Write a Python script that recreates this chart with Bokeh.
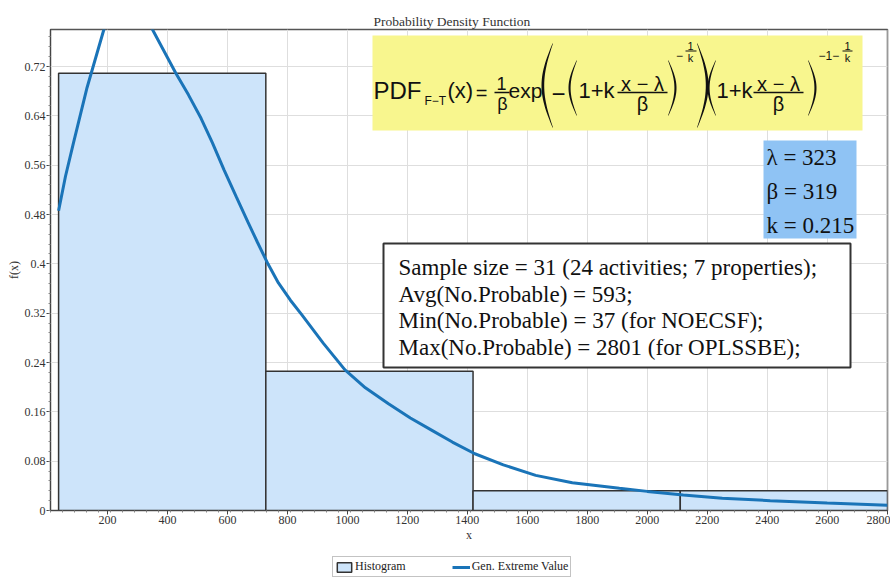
import math
from bokeh.plotting import figure
from bokeh.layouts import column
from bokeh.models import (FixedTicker, Label, BoxAnnotation, PolyAnnotation,
                          Legend, LegendItem, Range1d)
from bokeh.embed import file_html
from bokeh.resources import INLINE

# ---------------- data ----------------
bin_edges = [37, 728, 1419, 2110, 2801]
bin_density = [0.709, 0.226, 0.032, 0.032]

curve_x = [37, 60, 86, 132, 188, 210, 240, 270, 300, 325, 350, 428, 470, 512, 550,
           589, 630, 668, 700, 735, 770, 810, 847, 920, 992, 1060, 1137, 1210, 1282,
           1350, 1425, 1520, 1628, 1750, 1907, 2000, 2120, 2250, 2410, 2600, 2801]
curve_y = [0.486, 0.542, 0.595, 0.686, 0.78, 0.81, 0.835, 0.843, 0.835, 0.81, 0.78,
           0.709, 0.674, 0.636, 0.596, 0.552, 0.508, 0.468, 0.435, 0.400, 0.369,
           0.341, 0.318, 0.271, 0.228, 0.199, 0.173, 0.150, 0.130, 0.111, 0.092,
           0.074, 0.057, 0.045, 0.036, 0.031, 0.025, 0.020, 0.016, 0.012, 0.0085]

x_ticks = [200, 400, 600, 800, 1000, 1200, 1400, 1600, 1800, 2000, 2200, 2400, 2600, 2800]
y_ticks = [0, 0.08, 0.16, 0.24, 0.32, 0.4, 0.48, 0.56, 0.64, 0.72]
y_tick_labels = ["0", "0.08", "0.16", "0.24", "0.32", "0.4", "0.48", "0.56", "0.64", "0.72"]

title_text = "Probability Density Function"
legend_labels = ["Histogram", "Gen. Extreme Value"]
param_lines = ["λ = 323", "β = 319", "k = 0.215"]
info_lines = ["Sample size = 31 (24 activities; 7 properties);",
              "Avg(No.Probable) = 593;",
              "Min(No.Probable) = 37 (for NOECSF);",
              "Max(No.Probable) = 2801 (for OPLSSBE);"]

SERIF = "Liberation Serif"
SANS = "Liberation Sans"

HIST_FILL, HIST_LINE, CURVE_COLOR = "#cde4fa", "#333333", "#1a74b8"

p = figure(width=890, height=548, output_backend="svg", toolbar_location=None,
           x_range=Range1d(10, 2801), y_range=Range1d(0, 0.78),
           min_border_left=50, min_border_right=3, min_border_top=29,
           min_border_bottom=38, background_fill_color="white",
           border_fill_color="white")

p.title.text = title_text
p.title.align = "left"
p.title.offset = 323
p.title.text_font = SERIF
p.title.text_font_size = "13.5px"
p.title.text_font_style = "normal"
p.title.text_color = "#333333"
p.title.standoff = 2

p.xaxis.ticker = FixedTicker(ticks=x_ticks,
                             minor_ticks=[10 + 40 * i for i in range(70)])
p.yaxis.ticker = FixedTicker(ticks=y_ticks,
                             minor_ticks=[0.016 * i for i in range(49)])
p.yaxis.major_label_overrides = {t: l for t, l in zip(y_ticks, y_tick_labels)}
p.xaxis.axis_label = "x"
p.yaxis.axis_label = "f(x)"
for ax in (p.xaxis, p.yaxis):
    ax.axis_line_color = "#444444"
    ax.major_tick_line_color = "#444444"
    ax.minor_tick_line_color = "#888888"
    ax.major_tick_out = 4
    ax.major_tick_in = 0
    ax.minor_tick_out = 2
    ax.minor_tick_in = 0
    ax.major_label_text_font = SERIF
    ax.major_label_text_font_size = "12px"
    ax.major_label_text_color = "#333333"
    ax.axis_label_text_font = SERIF
    ax.axis_label_text_font_size = "12px"
    ax.axis_label_text_font_style = "normal"
    ax.axis_label_text_color = "#333333"
    ax.major_label_standoff = 1
    ax.axis_label_standoff = 1

p.grid.grid_line_color = "#dedede"
p.outline_line_color = "#555555"
p.outline_line_width = 1.5

hist = p.quad(left=bin_edges[:-1], right=bin_edges[1:], bottom=0, top=bin_density,
              fill_color=HIST_FILL, line_color=HIST_LINE, line_width=1.5)
curve = p.line(curve_x, curve_y, line_color=CURVE_COLOR, line_width=3)

# ---------------- annotations (screen positions relative to frame) ----------------
FL, FB = 50, 510


def sx(X):
    return X - FL


def sy(Y):
    return FB - Y


def box(X0, X1, Y0, Y1, fill, line=None, lw=1):
    p.add_layout(BoxAnnotation(left=sx(X0), right=sx(X1), top=sy(Y0), bottom=sy(Y1),
                               left_units="screen", right_units="screen",
                               top_units="screen", bottom_units="screen",
                               fill_color=fill, fill_alpha=1,
                               line_color=line, line_width=lw, line_alpha=1))


def lbl(text, X, Y, size, font=SANS, align="center", color="#111111"):
    p.add_layout(Label(x=sx(X), y=sy(Y), x_units="screen", y_units="screen",
                       text=text, text_font=font, text_font_size=f"{size}px",
                       text_align=align, text_baseline="middle", text_color=color))


def poly(xs, ys):
    p.add_layout(PolyAnnotation(xs=[sx(x) for x in xs], ys=[sy(y) for y in ys],
                                xs_units="screen", ys_units="screen",
                                fill_color="#111111", fill_alpha=1, line_color=None))


def bar(X0, X1, Y, t=1.4):
    poly([X0, X1, X1, X0], [Y - t / 2, Y - t / 2, Y + t / 2, Y + t / 2])


def paren(X0, X1, Y0, Y1, w, left=True):
    n = 30
    xs, ys = [], []
    d = 1 if left else -1
    for i in range(n + 1):
        t = i / n
        s = math.sin(math.pi * t)
        xs.append(X1 - (X1 - X0) * s if left else X0 + (X1 - X0) * s)
        ys.append(Y0 + t * (Y1 - Y0))
    for i in range(n, -1, -1):
        t = i / n
        s = math.sin(math.pi * t)
        xo = X1 - (X1 - X0) * s if left else X0 + (X1 - X0) * s
        xs.append(xo + d * (w * s + 0.5))
        ys.append(Y0 + t * (Y1 - Y0))
    poly(xs, ys)


# formula box
box(372, 862, 35, 130, "#f8f68e")
lbl("PDF", 373, 90, 24, align="left")
lbl("F−T", 424, 100, 12, align="left")
lbl("(x)", 447, 90, 22, align="left")
lbl("=", 481, 92, 20)
lbl("1", 501, 83, 18)
bar(494, 509, 92)
lbl("β", 502, 103, 18)
lbl("exp", 508, 90, 21, align="left")
paren(541, 552, 43, 127, 2.2, left=True)
lbl("−", 558, 93, 24)
paren(568, 576, 60, 115, 1.6, left=True)
lbl("1+k", 578, 90, 22, align="left")
lbl("x − λ", 642, 83, 20)
bar(617, 667, 92)
lbl("β", 642, 103, 20)
paren(668, 676, 60, 115, 1.6, left=False)
lbl("−", 679, 55, 12)
lbl("1", 690, 45, 11)
bar(685, 696, 50.5, 1.0)
lbl("k", 690, 57, 11)
paren(697, 708, 43, 127, 2.2, left=False)
paren(707, 715, 60, 115, 1.6, left=True)
lbl("1+k", 716, 90, 22, align="left")
lbl("x − λ", 778, 83, 20)
bar(753, 803, 92)
lbl("β", 778, 103, 20)
paren(808, 816, 60, 115, 1.6, left=False)
lbl("−1−", 818, 55, 12, align="left")
lbl("1", 847, 45, 11)
bar(842, 852, 50.5, 1.0)
lbl("k", 847, 57, 11)

# parameter box
box(763, 856, 140, 238, "#8fc3f4")
for i, t in enumerate(param_lines):
    lbl(t, 766, 157 + 34 * i, 23, font=SERIF, align="left")

# info box
box(383, 850, 243, 367, "white", line="#333333", lw=2)
for i, t in enumerate(info_lines):
    lbl(t, 398, 267 + 26.7 * i, 23, font=SERIF, align="left")

# ---------------- legend strip below the chart ----------------
# (the same series are drawn here outside the visible range, so only the legend shows)
lg = figure(width=890, height=29, output_backend="svg", toolbar_location=None,
            x_axis_type=None, y_axis_type=None, min_border=0,
            x_range=Range1d(0, 1), y_range=Range1d(0, 1),
            background_fill_color="white", border_fill_color="white")
lg.outline_line_color = None
lg.grid.visible = False
lh = lg.quad(left=bin_edges[:-1], right=bin_edges[1:], bottom=0, top=bin_density,
             fill_color=HIST_FILL, line_color=HIST_LINE, line_width=1.5)
ll = lg.line(curve_x, curve_y, line_color=CURVE_COLOR, line_width=3)
legend = Legend(items=[LegendItem(label=legend_labels[0], renderers=[lh]),
                       LegendItem(label=legend_labels[1], renderers=[ll])],
                orientation="horizontal", location=(282, 0),
                label_text_font=SERIF, label_text_font_size="12px",
                label_text_color="#222222",
                glyph_width=18, glyph_height=12, label_height=12,
                label_standoff=2, spacing=46, padding=2, margin=0,
                border_line_color="#888888", background_fill_alpha=1)
lg.add_layout(legend)

layout = column(p, lg, spacing=0)
open("out.html", "w").write(file_html(layout, INLINE))
